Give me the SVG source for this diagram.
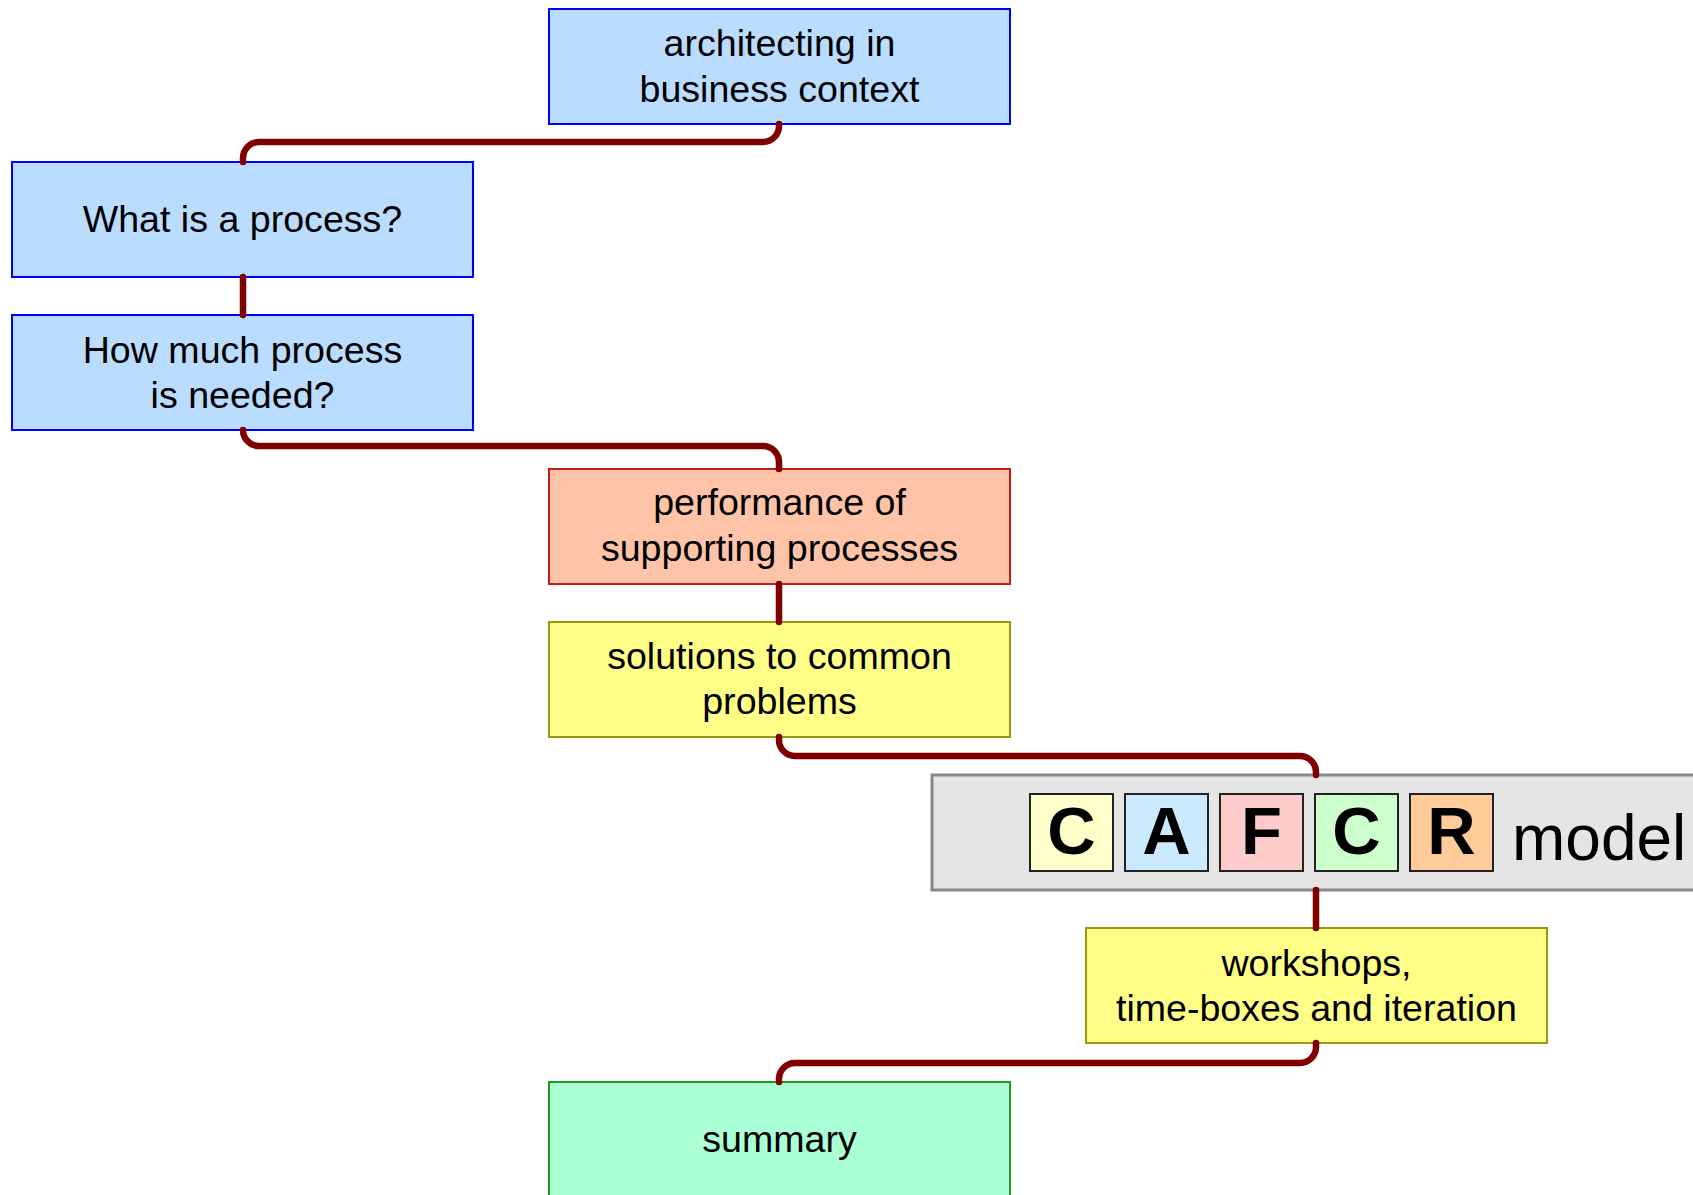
<svg xmlns="http://www.w3.org/2000/svg" width="1693" height="1195" viewBox="0 0 1693 1195">
<style>
  .t { font-family: "Liberation Sans", Arial, sans-serif; font-size: 37.6px; fill: #000; text-anchor: middle; }
  .blue { fill: #b9dcff; stroke: #0000ff; stroke-width: 2; }
  .salmon { fill: #ffc4a8; stroke: #c41a1a; stroke-width: 2; }
  .yellow { fill: #ffff88; stroke: #99990f; stroke-width: 2; }
  .green { fill: #aaffd4; stroke: #1f9a1f; stroke-width: 2; }
  .lt { stroke: #222; stroke-width: 2; }
  .letter { font-family: "Liberation Sans", Arial, sans-serif; font-weight: bold; font-size: 67px; fill: #000; text-anchor: middle; }
  .conn { fill: none; stroke: #800000; stroke-width: 6.5; stroke-linecap: round; }
</style>
<rect width="1693" height="1195" fill="#ffffff"/>
<g id="n1">
  <rect class="blue" x="549" y="9" width="461" height="115"/>
  <text class="t" x="779.5" y="55.5">architecting in</text>
  <text class="t" x="779.5" y="101.5">business context</text>
</g>
<g id="n2">
  <rect class="blue" x="12" y="162" width="461" height="115"/>
  <text class="t" x="242.5" y="231.5">What is a process?</text>
</g>
<g id="n3">
  <rect class="blue" x="12" y="315" width="461" height="115"/>
  <text class="t" x="242.5" y="362.5">How much process</text>
  <text class="t" x="242.5" y="407.5">is needed?</text>
</g>
<g id="n4">
  <rect class="salmon" x="549" y="469" width="461" height="115"/>
  <text class="t" x="779.5" y="514.5">performance of</text>
  <text class="t" x="779.5" y="560.5">supporting processes</text>
</g>
<g id="n5">
  <rect class="yellow" x="549" y="622" width="461" height="115"/>
  <text class="t" x="779.5" y="668.5">solutions to common</text>
  <text class="t" x="779.5" y="713.5">problems</text>
</g>
<g id="n6">
  <rect x="932" y="775" width="800" height="115" fill="#e5e5e5" stroke="#888888" stroke-width="3"/>
  <rect class="lt" x="1030" y="794" width="83" height="77" fill="#ffffcc"/>
  <rect class="lt" x="1125" y="794" width="83" height="77" fill="#cceaff"/>
  <rect class="lt" x="1220" y="794" width="83" height="77" fill="#ffcccc"/>
  <rect class="lt" x="1315" y="794" width="83" height="77" fill="#ccffcc"/>
  <rect class="lt" x="1410" y="794" width="83" height="77" fill="#ffcc99"/>
  <text class="letter" x="1071.5" y="854">C</text>
  <text class="letter" x="1166.5" y="854">A</text>
  <text class="letter" x="1261.5" y="854">F</text>
  <text class="letter" x="1356.5" y="854">C</text>
  <text class="letter" x="1451.5" y="854">R</text>
  <text x="1512" y="860" font-family="Liberation Sans, Arial, sans-serif" font-size="64" fill="#000">model</text>
</g>
<g id="n7">
  <rect class="yellow" x="1086" y="928" width="461" height="115"/>
  <text class="t" x="1316.5" y="975.5">workshops,</text>
  <text class="t" x="1316.5" y="1020.5">time-boxes and iteration</text>
</g>
<g id="n8">
  <rect class="green" x="549" y="1082" width="461" height="130"/>
  <text class="t" x="779.5" y="1151.5">summary</text>
</g>
<g id="connectors">
  <path class="conn" d="M779,124 V126 A16,16 0 0 1 763,142 H259 A16,16 0 0 0 243,158 V162"/>
  <path class="conn" d="M243,277 V315"/>
  <path class="conn" d="M243,430 A16,16 0 0 0 259,446 H763 A16,16 0 0 1 779,462 V469"/>
  <path class="conn" d="M779,584 V622"/>
  <path class="conn" d="M779,737 V740 A16,16 0 0 0 795,756 H1300 A16,16 0 0 1 1316,772 V775"/>
  <path class="conn" d="M1316,890 V928"/>
  <path class="conn" d="M1316,1043 V1047 A16,16 0 0 1 1300,1063 H795 A16,16 0 0 0 779,1079 V1082"/>
</g>
</svg>
